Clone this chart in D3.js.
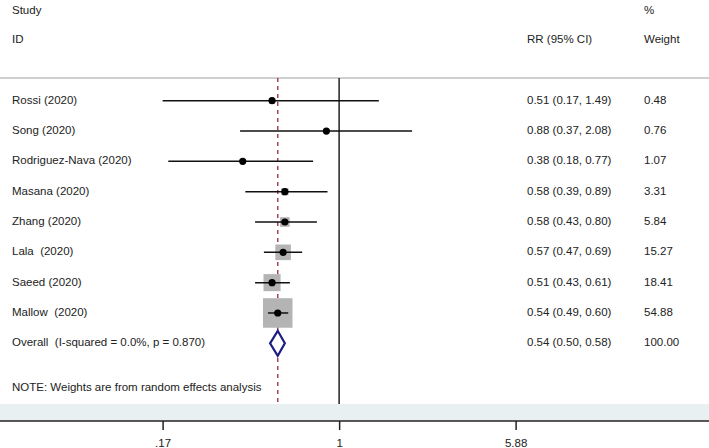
<!DOCTYPE html>
<html lang="en">
<head>
    <meta charset="UTF-8">
    <title>Forest plot</title>
    <script src="https://d3js.org/d3.v7.min.js"></script>
    <style>
        body { margin: 0; background: #fff; }
        text { font-family: 'Liberation Sans', Arial, sans-serif; font-size: 11.5px; fill: #222; white-space: pre; }
    </style>
</head>
<body>
    <div id="forest"></div>
    <script>
        // study data
        const studies = ["Rossi (2020)", "Song (2020)", "Rodriguez-Nava (2020)", "Masana (2020)",
            "Zhang (2020)", "Lala  (2020)", "Saeed (2020)", "Mallow  (2020)"];
        const rr = [0.51, 0.88, 0.38, 0.58, 0.58, 0.57, 0.51, 0.54];
        const lower = [0.17, 0.37, 0.18, 0.39, 0.43, 0.47, 0.43, 0.49];
        const upper = [1.49, 2.08, 0.77, 0.89, 0.80, 0.69, 0.61, 0.60];
        const weights = ["0.48", "0.76", "1.07", "3.31", "5.84", "15.27", "18.41", "54.88"];
        const overall = {label: "Overall  (I-squared = 0.0%, p = 0.870)", rr: 0.54, lo: 0.50, hi: 0.58, weight: "100.00"};
        const tickVals = [0.17, 1, 5.88];
        const tickLabels = [".17", "1", "5.88"];

        const W = 709, H = 448;
        const svg = d3.select("#forest").append("svg")
            .attr("width", W).attr("height", H);

        // log scale, null at 1
        const x = d3.scaleLog().domain([0.17, 5.88]).range([162.6, 515.6]);
        const y = d3.scaleLinear().domain([0, 8]).range([100.7, 343.3]);
        const side = d3.scaleSqrt().domain([0, 54.88]).range([0, 29.5]);

        const headY = 78, bandTop = 404, axisY = 421;

        // shaded band above the axis
        svg.append("rect").attr("x", 0).attr("y", bandTop).attr("width", W).attr("height", axisY - bandTop)
            .style("fill", "#e9f0f2");

        // header separator
        svg.append("line").attr("x1", 0).attr("x2", W).attr("y1", headY).attr("y2", headY)
            .style("stroke", "#cfcfcf").style("stroke-width", 2);

        // headers
        const hdr = [["Study", 12, 11], ["ID", 12, 40], ["RR (95% CI)", 527, 40], ["%", 644, 11], ["Weight", 644, 40]];
        hdr.forEach(h => svg.append("text").attr("x", h[1]).attr("y", h[2])
            .attr("dominant-baseline", "middle").text(h[0]));

        // null line
        svg.append("line").attr("x1", x(1)).attr("x2", x(1)).attr("y1", headY).attr("y2", bandTop)
            .style("stroke", "#222").style("stroke-width", 1.5);

        // overall estimate line
        svg.append("line").attr("x1", x(overall.rr)).attr("x2", x(overall.rr)).attr("y1", headY).attr("y2", bandTop)
            .style("stroke", "#a2434f").style("stroke-width", 1.5).style("stroke-dasharray", "4,4");

        const rows = studies.map((s, i) => ({s, rr: rr[i], lo: lower[i], hi: upper[i], w: weights[i], i}));

        // weight squares
        svg.selectAll(".box").data(rows).join("rect").attr("class", "box")
            .attr("x", d => x(d.rr) - side(+d.w) / 2)
            .attr("y", d => y(d.i) - side(+d.w) / 2)
            .attr("width", d => side(+d.w)).attr("height", d => side(+d.w))
            .style("fill", "#b4b4b4");

        // confidence intervals
        svg.selectAll(".ci").data(rows).join("line").attr("class", "ci")
            .attr("x1", d => x(d.lo)).attr("x2", d => x(d.hi))
            .attr("y1", d => y(d.i)).attr("y2", d => y(d.i))
            .style("stroke", "#111").style("stroke-width", 1.5);

        svg.selectAll(".pt").data(rows).join("circle").attr("class", "pt")
            .attr("cx", d => x(d.rr)).attr("cy", d => y(d.i)).attr("r", 3.6)
            .style("fill", "#000");

        // labels and text columns
        svg.selectAll(".lab").data(rows).join("text").attr("class", "lab")
            .attr("x", 12).attr("y", d => y(d.i)).attr("dominant-baseline", "middle").text(d => d.s);
        svg.selectAll(".est").data(rows).join("text").attr("class", "est")
            .attr("x", 527).attr("y", d => y(d.i)).attr("dominant-baseline", "middle")
            .text(d => `${d.rr.toFixed(2)} (${d.lo.toFixed(2)}, ${d.hi.toFixed(2)})`);
        svg.selectAll(".wt").data(rows).join("text").attr("class", "wt")
            .attr("x", 644).attr("y", d => y(d.i)).attr("dominant-baseline", "middle").text(d => d.w);

        // overall diamond
        const oy = y(8);
        svg.append("path")
            .attr("d", `M${x(overall.lo)},${oy} L${x(overall.rr)},${oy - 12.5} L${x(overall.hi)},${oy} L${x(overall.rr)},${oy + 12.5} Z`)
            .style("fill", "#fff").style("stroke", "#1c1c82").style("stroke-width", 2.2);
        svg.append("text").attr("x", 12).attr("y", oy).attr("dominant-baseline", "middle").text(overall.label);
        svg.append("text").attr("x", 527).attr("y", oy).attr("dominant-baseline", "middle")
            .text(`${overall.rr.toFixed(2)} (${overall.lo.toFixed(2)}, ${overall.hi.toFixed(2)})`);
        svg.append("text").attr("x", 644).attr("y", oy).attr("dominant-baseline", "middle").text(overall.weight);

        svg.append("text").attr("x", 12).attr("y", 388.3).attr("dominant-baseline", "middle")
            .text("NOTE: Weights are from random effects analysis");

        // bottom axis
        svg.append("line").attr("x1", 0).attr("x2", W).attr("y1", axisY).attr("y2", axisY)
            .style("stroke", "#222").style("stroke-width", 1.5);
        const axis = svg.append("g").attr("transform", `translate(0,${axisY})`)
            .call(d3.axisBottom(x).tickValues(tickVals).tickSize(9).tickPadding(9)
                .tickFormat((d, i) => tickLabels[i]));
        axis.select(".domain").remove();
        axis.selectAll(".tick line").style("stroke", "#222").style("stroke-width", 1.5);
        axis.selectAll(".tick text").style("font-size", "11.5px").style("fill", "#222")
            .style("font-family", "'Liberation Sans', Arial, sans-serif");
    </script>
</body>
</html>
